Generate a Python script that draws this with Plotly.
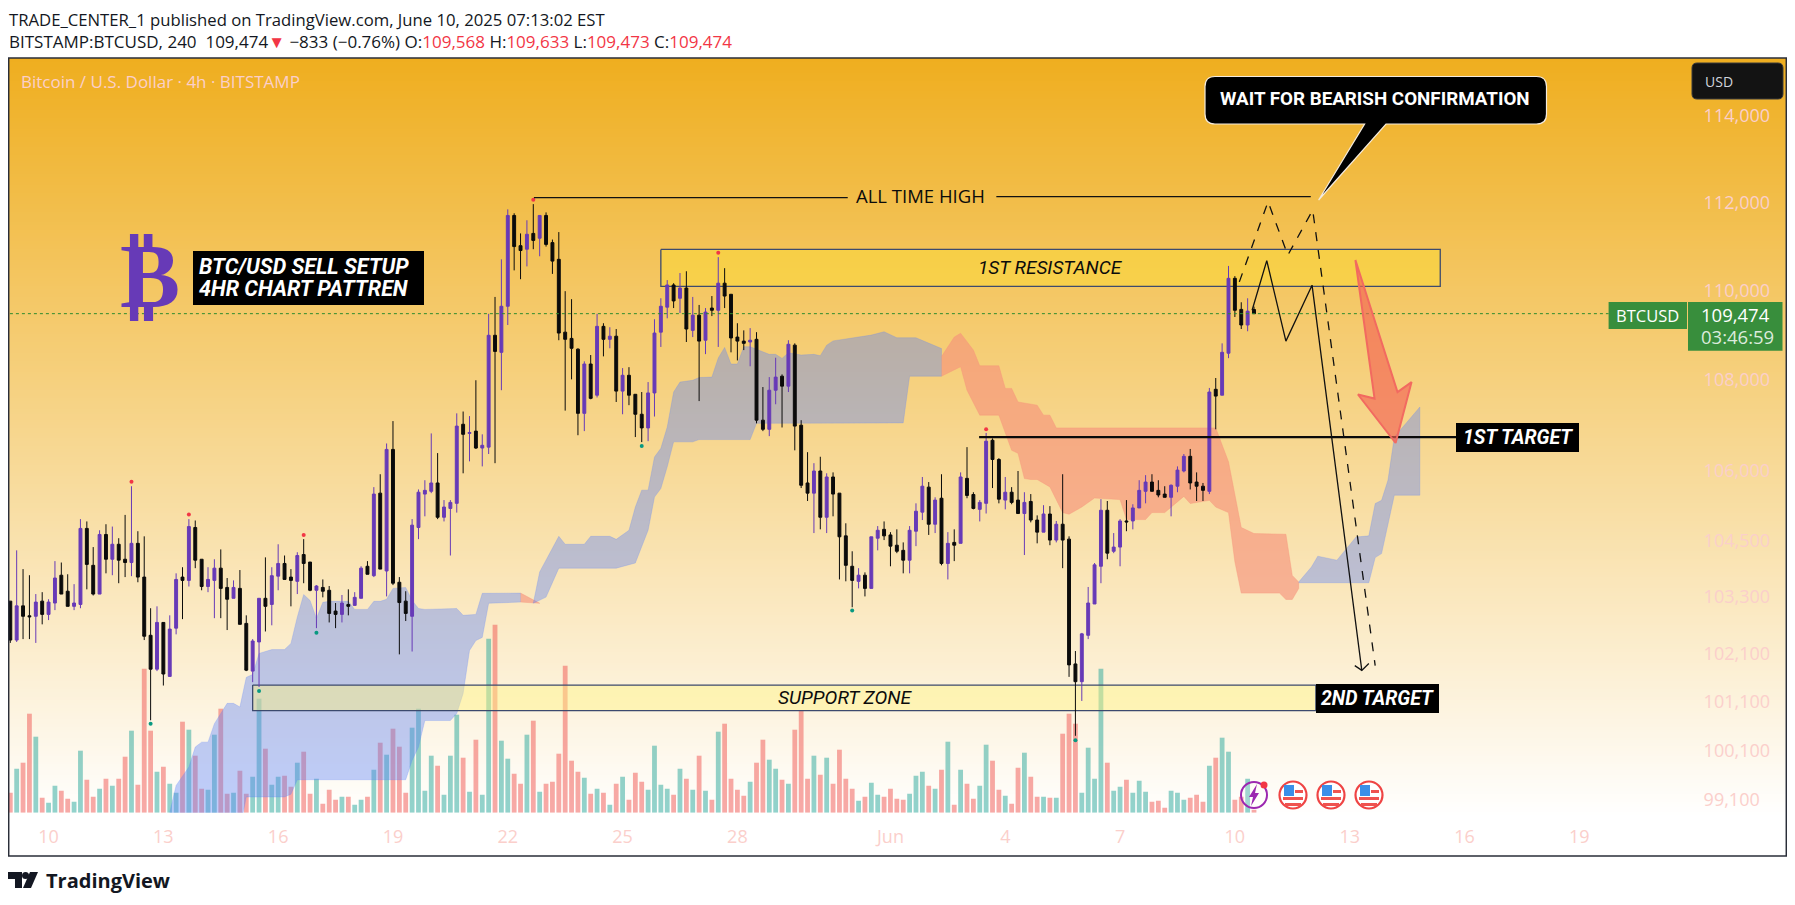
import numpy as np
import pandas as pd
import plotly.graph_objects as go

# 4h BTCUSD bars, first bar May 9 2025 00:00
start = pd.Timestamp("2025-05-09 00:00")

opens = [103210,102390,103110,102900,102890,103210,102930,103170,103760,103420,103100,103140,104760,103970,103360,104630,104100,104420,104100,104030,104440,103720,102490,101780,102760,101630,102640,103720,103650,104780,104100,103520,103650,
         103910,103500,103270,103480,102740,101740,102350,103270,103140,103740,104010,103720,103630,104200,104040,103440,103500,103440,103000,102930,103140,103120,103270,103950,103750,105520,103850,106470,103610,103210,102890,104780,
         105500,105560,105740,105000,105190,105300,107020,106820,106870,106500,106520,108990,108610,109640,111700,111010,110930,111290,111180,111700,111080,110700,109060,108920,108680,107260,108350,107660,109190,108900,108970,107750,108100,
         107680,107240,106940,107710,109060,109620,110120,109820,110050,109100,109440,108880,109600,109550,110160,109910,108950,108860,108840,108900,107110,106910,107770,108080,107860,108770,107000,105740,105520,106000,105000,105870,
         105520,104600,103950,103630,103760,103480,104550,104740,104620,104400,104290,104080,104700,105110,105650,104850,105410,104010,104460,104440,105840,105490,105170,105300,106670,106250,105370,105540,105370,105080,105340,104940,
         104680,105070,104510,104850,104530,101890,101520,102490,103150,103950,105150,104270,104360,104920,104920,105200,105560,105760,105580,105500,105430,105670,106000,106320,105760,105670,105560,107790,107660,108590,110270,109570,109220,109568]
closes = [102390,103110,102890,102880,103190,102930,103190,103700,103360,103100,103170,104760,103990,103360,104630,104100,104420,104080,104030,104440,103720,102470,101780,102760,101680,102620,103670,103650,104800,104080,103520,103670,103910,
          103480,103250,103500,102720,101760,102370,103270,103100,103750,104010,103670,103650,104180,104010,103440,103530,103420,102950,102930,103170,103100,103290,103910,103780,105500,103890,106470,103590,103180,102950,104830,105540,
          105580,105740,105000,105220,105320,106980,106800,106840,106500,106560,108990,108630,109640,111700,110990,110900,111270,111130,111700,111040,110660,109040,108900,108700,107260,108350,107590,109190,108900,108970,107750,108100,107660,
          107240,106940,107710,109040,109640,110120,109760,110050,109130,109440,108860,109510,109550,110160,109870,108930,108860,108810,108880,107110,106910,107770,108060,107860,108790,106980,105690,105520,106000,105000,105870,105500,
          104580,103970,103650,103760,103480,104580,104720,104600,104380,104270,104080,104720,105130,105670,104850,105370,104010,104440,104400,105870,105470,105190,105320,106650,106250,105390,105540,105320,105080,105320,104940,104680,
          105070,104510,104850,104510,101870,101520,102520,103170,103980,105150,104230,104360,104920,104900,105200,105580,105760,105560,105480,105430,105690,106020,106320,105740,105670,105580,107730,107640,108610,110270,109550,109220,109530,109474]
highs = [103210,104290,103890,103760,103360,103400,103250,104060,104030,103780,103570,104960,104910,104360,104720,104850,104800,104550,105050,105670,104700,104590,103060,103100,102760,102910,103800,103930,104960,104930,104100,103930,104100,
         104310,103700,103650,103870,102910,102410,103270,104140,103930,104420,104180,103890,104250,104530,104040,103550,103670,103530,103170,103340,103460,103400,103950,104060,105650,105930,106600,107090,103720,103420,104960,105600,
         105800,106820,106390,105370,105370,107260,107300,107200,107990,106800,109470,109850,110700,111840,111750,111290,111590,111960,111700,111770,111150,111320,109980,109800,108700,108410,108550,109470,109260,109170,109130,108260,108280,
         107680,107730,107950,109350,109820,110230,110160,110390,110430,109850,109670,109600,109870,110750,110500,109910,109260,109100,109150,109060,107840,108060,108490,108120,108880,108810,107110,106410,106170,106310,105950,105970,
         105520,104870,104270,103910,103820,104580,104810,104910,104680,104740,104460,104810,105300,105870,105760,105430,105930,104680,104740,105970,106520,105540,105370,106830,106710,106280,105870,105650,106000,105540,105500,105040,
         105260,105240,104920,105930,104590,102160,102540,103510,104020,105390,105350,104660,104960,105370,105280,105800,105910,105930,105800,105670,105710,106100,106370,106480,105970,105740,107820,108040,108810,110550,110320,109730,109820,109633]
lows = [102330,102350,102410,102410,102330,102720,102810,103020,103360,103100,103020,103060,103460,103330,103360,103800,103760,103590,103720,103740,103610,102390,100720,101740,101440,101630,102510,102830,103520,103910,103440,103400,102850,
        102850,102600,103270,102720,101740,101510,101410,102570,102700,103440,103670,103100,103360,103590,103420,102640,103290,102760,102640,102760,102910,103120,103270,103780,103720,103890,103310,103550,102090,102790,102150,104530,
        105020,105520,104960,104910,104180,105100,105950,106210,106480,106100,106370,106170,107770,109220,110450,110250,110540,110930,110770,110990,110370,108880,107320,108010,106780,106870,107570,107610,108520,108700,107510,107240,107440,
        106740,106630,106650,107190,108730,109370,109600,109490,108840,108950,107530,108570,109420,108730,109600,108610,108430,108660,108300,107040,106870,106760,107460,106950,107730,106450,105630,105350,104660,104740,104660,105020,
        103670,103630,103080,103480,103310,103480,104290,104510,103950,104230,103800,103800,104380,104940,104620,104660,103970,103670,104060,104440,105410,105170,104910,105080,105630,105300,105170,105280,105080,104190,104890,104440,
        104680,104400,104460,103910,101620,100400,101120,102410,103150,103590,104100,104230,103950,104700,104740,105200,105300,105560,105430,105430,105020,105540,105970,105600,105350,105350,105500,106910,107660,108480,109400,109130,109080,109473]
volumes = [20,44,50,99,76,15,10,27,22,14,11,62,33,16,24,34,27,34,56,82,28,144,82,41,46,29,20,91,83,57,24,23,78,
           104,19,20,42,19,36,114,64,28,36,37,26,50,61,19,34,9,23,13,16,16,8,13,16,43,70,58,84,66,20,85,104,22,
           57,47,18,57,98,55,21,73,18,174,188,72,54,39,29,78,92,21,29,31,59,147,52,41,35,19,24,20,8,29,36,13,40,31,23,67,28,24,18,44,34,23,57,22,13,81,89,34,23,17,31,50,73,53,44,33,29,83,102,34,57,38,55,29,63,34,24,12,16,30,18,16,24,14,
           13,19,37,41,27,24,43,71,8,43,29,14,27,68,52,23,17,9,45,60,36,16,16,15,15,79,99,89,20,65,34,144,50,22,26,33,20,32,21,11,12,5,22,20,13,15,18,11,47,55,75,61,13,16,34,3]

# ichimoku cloud pieces as (bar, price) vertices
blue1_top = [(25,98840),(26,99385),(28,99760),(29,100170),(30,100270),(31,100270),(32,100650),(34,101070),(35,101070),(36,100995),(37,101610),(38,101670),(39,102110),(41,102190),(43,102190),(44,102320),(45,102875),(46,103350),(47,103225),(48,102845),(49,103185),(50,103205),(53,103205),(54,103035),(56,103035),(57,103205),(58,103205),(59,103250),(60,103480),(62,103500),(63,103225),(64,103055),(65,103035),(70,103055),(71,102910),(73,102930),(74,103375),(80,103380)]
blue1_bot = [(25,98500),(36,98500),(37,99150),(43,99150),(44,99205),(45,99500),(62,99500),(63,99895),(64,100170),(65,100715),(69,100715),(70,100860),(71,101275),(72,102170),(73,102380),(74,102445),(75,103165),(80,103190)]
orange1_top = [(80,103380),(83,103165)]
orange1_bot = [(80,103190),(83,103165)]
blue2_top = [(82,103165),(83,103830),(86,104590),(87,104420),(90,104420),(91,104590),(94,104590),(95,104525),(97,104720),(98,105220),(99,105585),(100,105585),(101,106305),(102,106495),(103,106960),(104,107730),(105,107950),(107,107990),(108,108050),(110,108060),(111,108485),(112,108720),(113,108350),(114,108350),(115,108735),(116,108735),(119,108565),(120,108565),(121,108475),(122,108600),(124,108550),(126,108565),(127,108535),(128,108770),(129,108865),(132,108925),(135,108995),(137,109070),(139,108935),(142,108935),(146,108695)]
blue2_bot = [(82,103165),(84,103295),(86,103910),(95,103910),(98,104020),(100,104720),(101,105435),(102,105620),(103,106090),(104,106635),(107,106635),(108,106685),(116,106685),(117,107040),(129,107040),(140,107050),(141,108080),(146,108080)]
orange2_top = [(146,108515),(148,108950),(149,109035),(151,108660),(152,108310),(155,108310),(156,107810),(157,107810),(158,107510),(160,107460),(161,107440),(162,107220),(163,107220),(164,106940),(189,106940),(191,106200),(193,104780),(195,104650),(200,104635),(201,103755),(202,103615)]
orange2_bot = [(146,108080),(149,108290),(150,107770),(152,107220),(155,107220),(157,106450),(158,106385),(159,105835),(160,105815),(161,105815),(163,105655),(165,105100),(166,105065),(168,105220),(170,105415),(174,105380),(175,104950),(178,104950),(179,105100),(181,105100),(184,105450),(185,105295),(188,105365),(189,105220),(191,105100),(192,104045),(193,103380),(199,103380),(200,103245),(201,103245),(202,103475)]
blue3_top = [(202,103615),(204,103935),(205,104165),(208,104080),(211,104575),(213,104600),(214,105295),(215,105365),(216,105800),(217,106740),(221,107400)]
blue3_bot = [(202,103600),(213,103600),(214,104135),(215,104220),(217,105475),(221,105475)]

# pivot dots
pivot_high_bars = [19,28,46,82,111,153]
pivot_high_prices = [105765,105060,104620,112060,110850,106910]
pivot_low_bars = [22,39,48,99,132,167]
pivot_low_prices = [100650,101325,102545,106545,103010,100310]

price_ticks = [99100,100100,101100,102100,103300,104500,106000,108000,110000,112000,114000]
day_ticks = ["2025-05-10","2025-05-13","2025-05-16","2025-05-19","2025-05-22","2025-05-25","2025-05-28",
             "2025-06-01","2025-06-04","2025-06-07","2025-06-10","2025-06-13","2025-06-16","2025-06-19"]
day_labels = ["10","13","16","19","22","25","28","Jun","4","7","10","13","16","19"]

last_price = 109474

# the page has an 8px body margin, so the figure starts at (8,8) in the window
# frame is 8..1787 x 58..856 in window pixels, bars end at 1690 / 812.7
PAGE_MARGIN = 8
W, H = 1779, 889
FL, FR, FT, FB = 8, 1787, 58, 856
PANE_R, PANE_B = 1690, 812.7
PURPLE = "#673AB7"
BLACK = "#0B0B0B"
PINK = "#FBCFCB"
FONT = "Open Sans"
NARROW = "Roboto"


def bar_time(i):
    return start + pd.Timedelta(hours=4) * i


def bars_to_times(bars):
    return [bar_time(b) for b in bars]


def px_x(x):
    return (x - FL) / (FR - FL)


def px_y(y):
    return 1 - (y - FT) / (FB - FT)


def px_path(points):
    return "M" + " L".join(f"{px_x(x):.5f},{px_y(y):.5f}" for x, y in points) + " Z"


def round_rect(x0, y0, x1, y1, r, tail=None):
    # rounded box in pixels, tail is (left x, right x, tip x, tip y) under the box
    p = f"M{px_x(x0 + r):.5f},{px_y(y0):.5f} L{px_x(x1 - r):.5f},{px_y(y0):.5f} "
    p += f"Q{px_x(x1):.5f},{px_y(y0):.5f} {px_x(x1):.5f},{px_y(y0 + r):.5f} "
    p += f"L{px_x(x1):.5f},{px_y(y1 - r):.5f} Q{px_x(x1):.5f},{px_y(y1):.5f} {px_x(x1 - r):.5f},{px_y(y1):.5f} "
    if tail:
        p += f"L{px_x(tail[1]):.5f},{px_y(y1):.5f} L{px_x(tail[2]):.5f},{px_y(tail[3]):.5f} L{px_x(tail[0]):.5f},{px_y(y1):.5f} "
    p += f"L{px_x(x0 + r):.5f},{px_y(y1):.5f} Q{px_x(x0):.5f},{px_y(y1):.5f} {px_x(x0):.5f},{px_y(y1 - r):.5f} "
    p += f"L{px_x(x0):.5f},{px_y(y0 + r):.5f} Q{px_x(x0):.5f},{px_y(y0):.5f} {px_x(x0 + r):.5f},{px_y(y0):.5f} Z"
    return p


def box(x0, y0, x1, y1, fill, line=None, width=0):
    return dict(type="rect", xref="paper", yref="paper", x0=px_x(x0), x1=px_x(x1), y0=px_y(y0), y1=px_y(y1),
                fillcolor=fill, line=dict(color=line or fill, width=width), layer="above")


def circle(cx, cy, r, fill, line=None, width=0):
    return dict(type="circle", xref="paper", yref="paper", x0=px_x(cx - r), x1=px_x(cx + r), y0=px_y(cy - r), y1=px_y(cy + r),
                fillcolor=fill, line=dict(color=line or fill, width=width), layer="above")


def note(x, y, text, size=16, color="#000000", anchor="center", family=FONT):
    return dict(xref="paper", yref="paper", x=px_x(x), y=px_y(y), text=text, showarrow=False, xanchor=anchor, yanchor="middle",
                font=dict(size=size, color=color, family=family), align="left", borderpad=0)


def polygon(top, bot, fill):
    pts = top + bot[::-1]
    return go.Scatter(x=bars_to_times([p[0] for p in pts]), y=[p[1] for p in pts], mode="lines", fill="toself",
                      fillcolor=fill, line=dict(width=0.6, color=fill), xaxis="x2", yaxis="y3", hoverinfo="skip", showlegend=False)


def level(bars, prices, color="#111111", width=1.3, dash="solid", yaxis="y4", fill=None, fillcolor=None):
    return go.Scatter(x=bars_to_times(bars), y=prices, mode="lines", line=dict(color=color, width=width, dash=dash),
                      fill=fill, fillcolor=fillcolor, xaxis="x2", yaxis=yaxis, hoverinfo="skip", showlegend=False)


times = bars_to_times(range(len(opens)))
vol_colors = ["rgba(38,166,154,0.5)" if c >= o else "rgba(239,83,80,0.5)" for o, c in zip(opens, closes)]

fig = go.Figure()

# page gradient lives on its own full-frame axes under everything
grad = np.linspace(1, 0, 300).reshape(-1, 1).repeat(2, axis=1)
fig.add_trace(go.Heatmap(z=grad, x=[0, 1], y=np.linspace(0, 1, 300)[::-1], zmin=0, zmax=1,
                         colorscale=[[0, "#FFFFFF"], [0.05, "#FFFFFF"], [1, "#EFAE1F"]],
                         showscale=False, hoverinfo="skip", xaxis="x", yaxis="y"))

fig.add_trace(go.Bar(x=times, y=volumes, marker=dict(color=vol_colors, line=dict(width=0)), xaxis="x2", yaxis="y2",
                     hoverinfo="skip", showlegend=False))

blue = "rgba(91,130,249,0.39)"
orange = "rgba(246,145,123,0.63)"
fig.add_trace(polygon(blue1_top, blue1_bot, blue))
fig.add_trace(polygon(orange1_top, orange1_bot, orange))
fig.add_trace(polygon(blue2_top, blue2_bot, blue))
fig.add_trace(polygon(orange2_top, orange2_bot, orange))
fig.add_trace(polygon(blue3_top, blue3_bot, blue))

# zones
zone_line = "#3C4A6E"
fig.add_trace(level([102, 224.2, 224.2, 102, 102], [110925, 110925, 110087, 110087, 110925], zone_line, 1.3, yaxis="y3",
                    fill="toself", fillcolor="rgba(250,215,60,0.6)"))
fig.add_trace(level([38, 204.7, 204.7, 38, 38], [101450, 101450, 100920, 100920, 101450], zone_line, 1.3, yaxis="y3",
                    fill="toself", fillcolor="rgba(255,245,130,0.45)"))

fig.add_trace(go.Candlestick(x=times, open=opens, high=highs, low=lows, close=closes, xaxis="x2", yaxis="y4",
                             increasing=dict(line=dict(color=PURPLE, width=1), fillcolor=PURPLE),
                             decreasing=dict(line=dict(color=BLACK, width=1), fillcolor=BLACK),
                             whiskerwidth=0, hoverinfo="skip", showlegend=False))

fig.add_trace(go.Scatter(x=bars_to_times(pivot_high_bars), y=pivot_high_prices, mode="markers", marker=dict(color="#F23645", size=4),
                         xaxis="x2", yaxis="y4", hoverinfo="skip", showlegend=False))
fig.add_trace(go.Scatter(x=bars_to_times(pivot_low_bars), y=pivot_low_prices, mode="markers", marker=dict(color="#089981", size=4),
                         xaxis="x2", yaxis="y4", hoverinfo="skip", showlegend=False))

# last price line
fig.add_trace(level([-1, 250.6], [last_price, last_price], "#2E8B2E", 1, "dot"))

# drawings
fig.add_trace(level([82.1, 131.3], [112110, 112110]))
fig.add_trace(level([154.6, 203.9], [112130, 112130]))
fig.add_trace(level([151.9, 226.7], [106740, 106740], "#0A0A0A", 2.2))
fig.add_trace(level([194.7, 197, 200, 204.1, 211.9], [109550, 110670, 108860, 110115, 101755]))
fig.add_trace(level([210.8, 211.9, 213], [101855, 101755, 101900]))
fig.add_trace(level([192.7, 197.2, 200.3, 204.2, 214], [110190, 112015, 110795, 111825, 101855], dash="dash"))
fig.add_trace(level([210.9, 217.5, 219.7, 217.2, 211.3, 213.9, 210.9],
                    [110685, 107730, 107950, 106610, 107675, 107585, 110685], "#F26A60", 2,
                    fill="toself", fillcolor="rgba(242,100,85,0.65)"))

shapes = [
    dict(type="rect", xref="paper", yref="paper", x0=px_x(8.7), x1=px_x(1786.3), y0=0, y1=1, line=dict(color="#2A2E39", width=1.5), layer="above"),
    # currency box
    dict(type="path", xref="paper", yref="paper", path=round_rect(1692, 63, 1783, 99, 5), fillcolor="#131313",
         line=dict(color="#3a3a3a", width=1), layer="above"),
    # callout
    dict(type="path", xref="paper", yref="paper", path=round_rect(1205, 76.5, 1546.5, 124, 10, tail=(1364.6, 1386, 1318.6, 200)),
         fillcolor="#000000", line=dict(color="#F5EBDD", width=1.2), layer="above"),
    # labels
    box(193, 251, 424, 305, "#000000"),
    box(1456, 423, 1579, 452, "#000000"),
    box(1316, 684, 1439, 713, "#000000"),
    box(1608.6, 302, 1687, 329, "#388E3C"),
    box(1688, 302, 1782.5, 350.7, "#388E3C"),
    # lightning icon
    circle(1254, 795, 13, "rgba(255,255,255,0.15)", "#9C27B0", 2),
    dict(type="path", xref="paper", yref="paper", fillcolor="#9C27B0", line=dict(width=0), layer="above",
         path=px_path([(1257, 784), (1249, 797), (1253, 797), (1251, 806), (1259, 793), (1255, 793)])),
    circle(1264, 785, 3.5, "#F23645"),
    # tradingview logo
    dict(type="path", xref="paper", yref="paper", fillcolor="#131722", line=dict(width=0), layer="above",
         path=px_path([(8, 872), (22, 872), (22, 888), (15, 888), (15, 879), (8, 879)])),
    circle(25.5, 875.5, 3.5, "#131722"),
    dict(type="path", xref="paper", yref="paper", fillcolor="#131722", line=dict(width=0), layer="above",
         path=px_path([(30, 872), (38, 872), (31, 888), (23, 888)])),
]
# calendar flag icons
for cx in [1293, 1331, 1369]:
    shapes.append(circle(cx, 795, 13.5, "#FFFFFF", "#EF4444", 2.2))
    shapes.append(box(cx - 10, 797, cx + 10, 800, "#EF5350"))
    shapes.append(box(cx - 8, 803, cx + 8, 806, "#EF5350"))
    shapes.append(box(cx - 9, 785, cx + 1, 796, "#3B8FE8"))
    shapes.append(box(cx + 2, 790, cx + 10, 793, "#EF5350"))

red = 'style="color:#F23645"'
annotations = [
    note(8, 19.5, "TRADE_CENTER_1 published on TradingView.com, June 10, 2025 07:13:02 EST", 16.7, "#131722", "left"),
    note(8, 41, f"BITSTAMP:BTCUSD, 240  109,474<span {red}>▼</span> −833 (−0.76%) O:<span {red}>109,568</span> H:<span {red}>109,633</span> L:<span {red}>109,473</span> C:<span {red}>109,474</span>",
         17, "#131722", "left"),
    note(20, 81, "Bitcoin / U.S. Dollar · 4h · BITSTAMP", 17, PINK, "left"),
    note(1704, 81, "USD", 14, "#D1D4DC", "left"),
    note(150, 276, "<b>₿</b>", 90, "#673AB7", family="DejaVu Sans"),
    note(198, 266, "<b><i>BTC/USD SELL SETUP</i></b>", 21.5, "#FFFFFF", "left", NARROW),
    note(198, 288.5, "<b><i>4HR CHART PATTREN</i></b>", 21.5, "#FFFFFF", "left", NARROW),
    note(1375, 99, "<b>WAIT FOR BEARISH CONFIRMATION</b>", 18.8, "#FFFFFF", family=NARROW),
    note(920, 196, "ALL TIME HIGH", 18.5, "#0B0B0B"),
    note(1050, 267, "<i>1ST RESISTANCE</i>", 19, "#0B0B0B", family=NARROW),
    note(845, 697, "<i>SUPPORT ZONE</i>", 19.2, "#0B0B0B", family=NARROW),
    note(1517.5, 437.5, "<b><i>1ST TARGET</i></b>", 19.5, "#FFFFFF", family=NARROW),
    note(1377.5, 698.5, "<b><i>2ND TARGET</i></b>", 19.5, "#FFFFFF", family=NARROW),
    note(1647.8, 315.5, "BTCUSD", 16.5, "#FFFFFF"),
    note(1735, 315, "109,474", 18.5, "#FFFFFF"),
    note(1737, 336, "03:46:59", 18.5, "#DCEBDD"),
    note(45, 880, "<b>TradingView</b>", 20, "#131722", "left"),
]

log_low = np.log10(98830)
log_high = np.log10(115364)
pane_x = [0, px_x(PANE_R)]
pane_y = [px_y(PANE_B), 1]
x_range = [bar_time(-0.36), bar_time((PANE_R - 10.3) / 6.378)]

fig.update_layout(
    width=W, height=H,
    autosize=False,
    margin=dict(l=FL - PAGE_MARGIN, r=0, t=FT - PAGE_MARGIN, b=H + PAGE_MARGIN - FB, pad=0),
    paper_bgcolor="#FFFFFF",
    plot_bgcolor="rgba(0,0,0,0)",
    showlegend=False,
    bargap=0.25,
    boxgap=0.35,
    xaxis=dict(domain=[0, 1], range=[0, 1], visible=False),
    yaxis=dict(domain=[0, 1], range=[0, 1], visible=False),
    xaxis2=dict(domain=pane_x, anchor="y2", type="date", range=x_range, tickmode="array", tickvals=day_ticks, ticktext=day_labels,
                tickfont=dict(size=18, color=PINK, family=FONT), showgrid=False, zeroline=False, showline=False,
                ticks="outside", ticklen=8, tickcolor="rgba(0,0,0,0)", rangeslider=dict(visible=False)),
    yaxis2=dict(domain=pane_y, anchor="x2", range=[0, PANE_B - FT], visible=False, fixedrange=True),
    yaxis3=dict(overlaying="y2", anchor="x2", type="log", range=[log_low, log_high], visible=False),
    yaxis4=dict(overlaying="y2", anchor="x2", side="right", type="log", range=[log_low, log_high], tickmode="array",
                tickvals=price_ticks, ticktext=[f"{p:,}" for p in price_ticks], tickfont=dict(size=18, color=PINK, family=FONT),
                showgrid=False, zeroline=False, showline=False, ticks="outside", ticklen=9, tickcolor="rgba(0,0,0,0)"),
    shapes=shapes,
    annotations=annotations,
)

fig.write_html("out.html")
